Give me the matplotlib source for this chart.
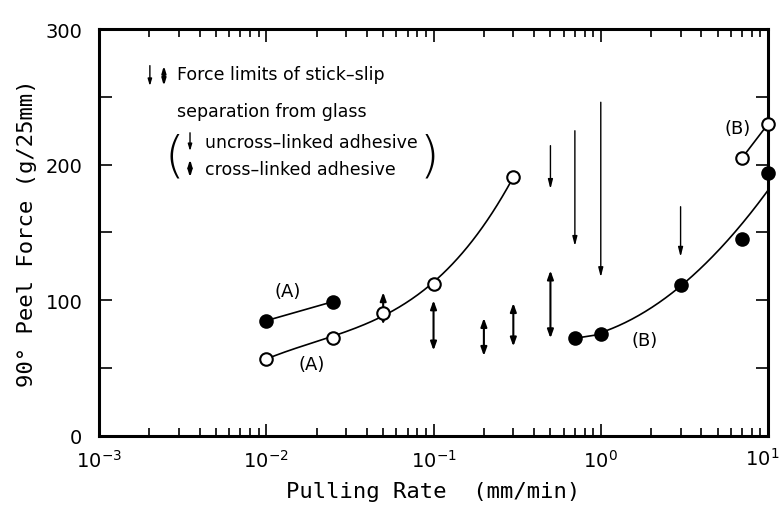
import numpy as np
import matplotlib
matplotlib.use('Agg')
import matplotlib.pyplot as plt
from matplotlib.ticker import LogLocator, MultipleLocator, FixedLocator

# series (A): open = uncross-linked, filled = cross-linked
rate_A_open = [0.01, 0.025, 0.05, 0.1, 0.3]
force_A_open = [57, 72, 91, 112, 191]
rate_A_fill = [0.01, 0.025]
force_A_fill = [85, 99]

# series (B)
rate_B_open = [7, 10]
force_B_open = [205, 230]
rate_B_fill = [0.7, 1.0, 3.0, 7.0, 10.0]
force_B_fill = [72, 75, 111, 145, 194]
# smooth curve drawn through the (B) filled points
curve_B_rate = [0.7, 1.0, 3.0, 10.0]
curve_B_force = [72, 75, 111, 181]

# stick-slip force limits
cross_rate = [0.05, 0.1, 0.2, 0.3, 0.5]
cross_low = [82, 63, 59, 66, 72]
cross_high = [106, 100, 87, 98, 122]
uncross_rate = [0.5, 0.7, 1.0, 3.0]
uncross_low = [182, 140, 117, 132]
uncross_high = [214, 225, 246, 169]

x_ticks = [1e-3, 1e-2, 1e-1, 1e0, 1e1]
x_ticklabels = [r'$\mathdefault{10^{-3}}$', r'$\mathdefault{10^{-2}}$',
                r'$\mathdefault{10^{-1}}$', r'$\mathdefault{10^{0}}$',
                r'$\mathdefault{10^{1}}$']

plt.rcParams['font.family'] = 'DejaVu Sans'
fig = plt.figure(figsize=(7.81, 5.06), dpi=100)
ax = fig.add_axes([0.1268, 0.1364, 0.8566, 0.8043])

# smooth fitted curves in log10 rate
lx = np.log10(rate_A_open)
pA = np.polyfit(lx, force_A_open, 3)
xs = np.linspace(lx[0], lx[-1], 200)
ax.plot(10 ** xs, np.polyval(pA, xs), color='black', lw=1.2, zorder=2)

lb = np.log10(curve_B_rate)
pB = np.polyfit(lb, curve_B_force, 2)
xs = np.linspace(lb[1], lb[-1], 200)
ax.plot(10 ** xs, np.polyval(pB, xs), color='black', lw=1.2, zorder=2)
ax.plot(rate_B_fill[:2], force_B_fill[:2], color='black', lw=1.2, zorder=2)

ax.plot(rate_A_fill, force_A_fill, color='black', lw=1.2, zorder=2)
ax.plot(rate_B_open, force_B_open, color='black', lw=1.2, zorder=2)

mk = dict(linestyle='none', marker='o', markersize=9, markeredgecolor='black',
          markeredgewidth=1.5, zorder=4, clip_on=False)
ax.plot(rate_A_open, force_A_open, markerfacecolor='white', **mk)
ax.plot(rate_B_open, force_B_open, markerfacecolor='white', **mk)
ax.plot(rate_A_fill, force_A_fill, markerfacecolor='black', **mk)
ax.plot(rate_B_fill, force_B_fill, markerfacecolor='black', **mk)

# stick-slip arrows
for x, lo, hi in zip(cross_rate, cross_low, cross_high):
    ax.annotate('', xy=(x, lo), xytext=(x, hi),
                arrowprops=dict(arrowstyle='<|-|>,head_length=0.5,head_width=0.18',
                                color='black', lw=1.5, shrinkA=0, shrinkB=0), zorder=3)
for x, lo, hi in zip(uncross_rate, uncross_low, uncross_high):
    ax.annotate('', xy=(x, lo), xytext=(x, hi),
                arrowprops=dict(arrowstyle='-|>,head_length=0.55,head_width=0.14',
                                color='black', lw=1.0, shrinkA=0, shrinkB=0), zorder=3)

# curve labels
lab = dict(fontsize=13, ha='center', va='center')
ax.text(0.0134, 107, '(A)', **lab)
ax.text(0.0188, 53, '(A)', **lab)
ax.text(1.83, 71, '(B)', **lab)
ax.text(6.6, 227, '(B)', **lab)

# legend block
tr = ax.transAxes
fs = 12.5
ax.text(0.117, 0.889, 'Force limits of stick\u2013slip', transform=tr, fontsize=fs, va='center')
ax.text(0.117, 0.799, 'separation from glass', transform=tr, fontsize=fs, va='center')
ax.text(0.158, 0.722, 'uncross\u2013linked adhesive', transform=tr, fontsize=fs, va='center')
ax.text(0.158, 0.656, 'cross\u2013linked adhesive', transform=tr, fontsize=fs, va='center')
ax.text(0.113, 0.686, '(', transform=tr, fontsize=36, va='center', ha='center',
        fontweight='light')
ax.text(0.493, 0.686, ')', transform=tr, fontsize=36, va='center', ha='center',
        fontweight='light')
for (x, y0, y1, style, lw) in [(0.076, 0.91, 0.86, '-|>', 1.0),
                               (0.097, 0.91, 0.86, '<|-|>', 1.5),
                               (0.136, 0.745, 0.700, '-|>', 1.0),
                               (0.136, 0.680, 0.635, '<|-|>', 1.5)]:
    ax.annotate('', xy=(x, y1), xytext=(x, y0), xycoords=tr, textcoords=tr,
                arrowprops=dict(arrowstyle=style + ',head_length=0.4,head_width=0.12',
                                color='black', lw=lw, shrinkA=0, shrinkB=0))

ax.set_xscale('log')
ax.set_xlim(1e-3, 10)
ax.set_ylim(0, 300)
ax.yaxis.set_major_locator(MultipleLocator(100))
ax.yaxis.set_minor_locator(MultipleLocator(50))
# last decade label is drawn separately so it stays inside the figure
ax.set_xticks(x_ticks, x_ticklabels[:-1] + [''])
ax.xaxis.set_minor_locator(LogLocator(base=10, subs=np.arange(2, 10), numticks=10))
ax.tick_params(which='both', direction='in', top=True, right=True, width=1.2,
               labelsize=14)
ax.tick_params(which='major', length=9)
ax.tick_params(which='minor', length=6)
ax.tick_params(axis='y', which='minor', length=9)
ax.tick_params(axis='y', which='major', pad=12)
ax.tick_params(axis='x', which='major', pad=9)
for s in ax.spines.values():
    s.set_linewidth(2.2)
fig.text(0.998, 1 - 459 / 506, x_ticklabels[-1], ha='right', va='center', fontsize=14)

ax.set_xlabel('Pulling Rate  (mm/min)', fontsize=16, labelpad=8,
              family='DejaVu Sans Mono')
ax.set_ylabel('90\u00b0 Peel Force (g/25mm)', fontsize=16, labelpad=6,
              family='DejaVu Sans Mono')

fig.savefig('out.png', dpi=100)
